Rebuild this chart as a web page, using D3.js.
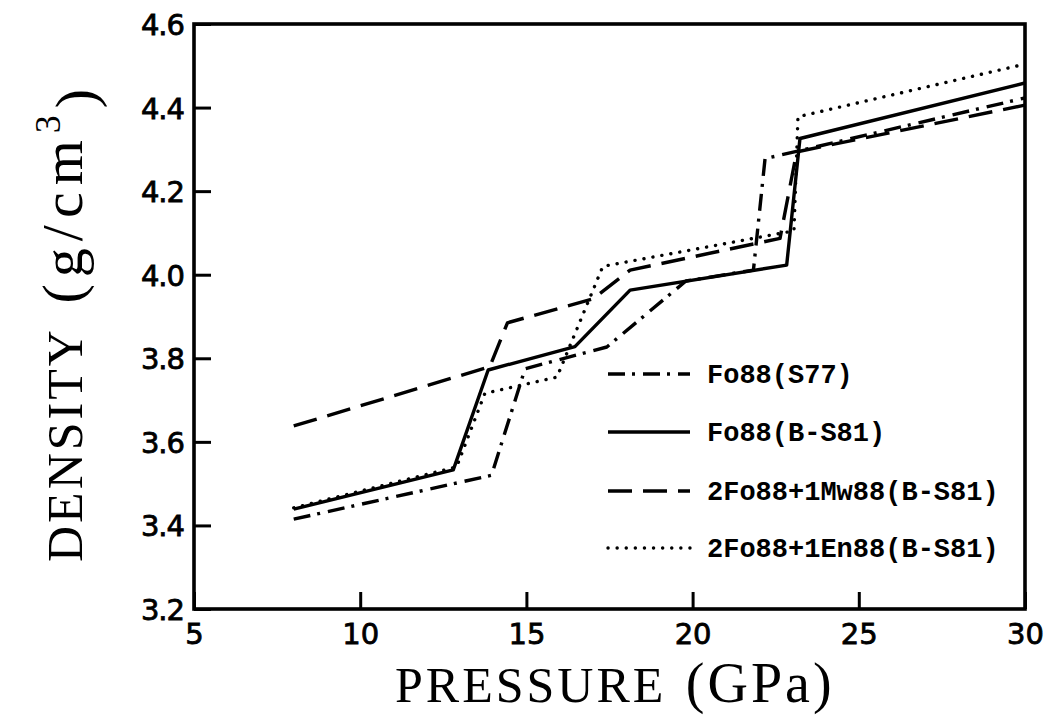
<!DOCTYPE html>
<html>
<head>
<meta charset="utf-8">
<script src="https://cdn.jsdelivr.net/npm/d3@7"></script>
<style>
  html, body { margin: 0; padding: 0; background: #fff; }
  svg { display: block; }
</style>
</head>
<body>
<svg id="chart" width="1049" height="723"></svg>
<script>
// Density vs. pressure for olivine-bearing assemblages (Fo88 and mixtures)
const xTicks = [5, 10, 15, 20, 25, 30];
const yTicks = [3.2, 3.4, 3.6, 3.8, 4.0, 4.2, 4.4, 4.6];

const seriesNames = [
  "Fo88(S77)",
  "Fo88(B-S81)",
  "2Fo88+1Mw88(B-S81)",
  "2Fo88+1En88(B-S81)"
];

// [pressure (GPa), density (g/cm3)]
const fo88S77 = [
  [8.0, 3.415], [13.95, 3.52], [14.96, 3.775], [17.42, 3.827],
  [19.8, 3.985], [21.83, 4.011], [22.18, 4.278], [22.63, 4.286], [30.0, 4.423]
];
const fo88BS81 = [
  [8.0, 3.439], [12.8, 3.533], [13.85, 3.772], [16.46, 3.828],
  [18.12, 3.963], [22.83, 4.023], [23.23, 4.326], [30.0, 4.459]
];
const fo88Mw88 = [
  [8.0, 3.638], [13.9, 3.78], [14.43, 3.885], [17.0, 3.942],
  [18.12, 4.011], [22.63, 4.087], [23.13, 4.294], [30.0, 4.406]
];
const fo88En88 = [
  [8.0, 3.442], [12.9, 3.54], [13.75, 3.716], [15.92, 3.755],
  [17.3, 4.02], [23.05, 4.105], [23.17, 4.378], [30.0, 4.504]
];

const seriesData = [fo88S77, fo88BS81, fo88Mw88, fo88En88];
const dashes = ["17 7 3 8", null, "24 11", "0.1 9"];

const svg = d3.select("#chart");
const margin = { left: 194, right: 24, top: 24, bottom: 114 };
const W = 1049, H = 723;

const x = d3.scaleLinear().domain([5, 30]).range([margin.left, W - margin.right]);
const y = d3.scaleLinear().domain([3.2, 4.6]).range([H - margin.bottom, margin.top]);

const plotG = svg.append("g");

// clip lines to plot area
svg.append("defs").append("clipPath").attr("id", "plotClip")
  .append("rect")
  .attr("x", x(5)).attr("y", y(4.6))
  .attr("width", x(30) - x(5)).attr("height", y(3.2) - y(4.6));

const line = d3.line().x(d => x(d[0])).y(d => y(d[1]));

plotG.append("g").attr("clip-path", "url(#plotClip)")
  .selectAll("path")
  .data(seriesData)
  .join("path")
  .attr("d", line)
  .attr("fill", "none")
  .attr("stroke", "#000")
  .attr("stroke-width", 3.4)
  .attr("stroke-linejoin", "round")
  .attr("stroke-linecap", (d, i) => i === 3 ? "round" : "butt")
  .attr("stroke-dasharray", (d, i) => dashes[i]);

// axes with inward ticks
const tickLen = 17;
const xAxis = d3.axisBottom(x).tickValues(xTicks).tickSize(-tickLen).tickPadding(14)
  .tickFormat(d3.format("d"));
const yAxis = d3.axisLeft(y).tickValues(yTicks).tickSize(-tickLen).tickPadding(10)
  .tickFormat(d3.format(".1f"));

const gx = svg.append("g").attr("transform", `translate(0,${y(3.2)})`).call(xAxis);
const gy = svg.append("g").attr("transform", `translate(${x(5)},0)`).call(yAxis);

[gx, gy].forEach(g => {
  g.select(".domain").remove();
  g.selectAll(".tick line").attr("stroke", "#000").attr("stroke-width", 3);
  g.selectAll(".tick text")
    .attr("fill", "#000")
    .attr("stroke", "#000")
    .attr("stroke-width", 0.8)
    .style("font-family", "'DejaVu Sans', sans-serif")
    .style("font-size", "29px");
});
gx.selectAll(".tick text").attr("dy", "0.71em");
gy.selectAll(".tick text").attr("dy", "0.36em").attr("letter-spacing", "-1");

// frame
svg.append("rect")
  .attr("x", x(5)).attr("y", y(4.6))
  .attr("width", x(30) - x(5)).attr("height", y(3.2) - y(4.6))
  .attr("fill", "none").attr("stroke", "#000").attr("stroke-width", 3.6);

// axis titles
const serif = "'Liberation Serif', 'Times New Roman', serif";
const xTitle = svg.append("text")
  .attr("x", 395)
  .attr("y", 702)
  .attr("letter-spacing", "3")
  .style("font-family", serif)
  .style("font-size", "50px");
xTitle.append("tspan").text("PRESSURE ");
xTitle.append("tspan").attr("dx", 4).style("font-size", "56px").text("(GPa)");

const yTitle = svg.append("text")
  .attr("transform", `translate(82,562) rotate(-90)`)
  .attr("letter-spacing", "3")
  .style("font-family", serif)
  .style("font-size", "50px");
yTitle.append("tspan").text("DENSITY ");
yTitle.append("tspan").attr("dx", 10).style("font-size", "58px").attr("letter-spacing", "7").text("(g/cm");
yTitle.append("tspan").attr("dy", "-0.6em").style("font-size", "36px").text("3");
yTitle.append("tspan").attr("dy", "0.6em").attr("dx", 4).style("font-size", "58px").text(")");

// legend
const legendRows = [374, 432, 491, 548];
const legend = svg.append("g");
seriesNames.forEach((name, i) => {
  legend.append("line")
    .attr("x1", 608).attr("x2", 690)
    .attr("y1", legendRows[i]).attr("y2", legendRows[i])
    .attr("stroke", "#000").attr("stroke-width", 3.4)
    .attr("stroke-linecap", i === 3 ? "round" : "butt")
    .attr("stroke-dasharray", dashes[i]);
  legend.append("text")
    .attr("x", 707).attr("y", legendRows[i])
    .attr("dy", "0.35em")
    .style("font-family", "'Liberation Mono', 'Courier New', monospace")
    .style("font-weight", "bold")
    .style("font-size", "27px")
    .text(name);
});
</script>
</body>
</html>
